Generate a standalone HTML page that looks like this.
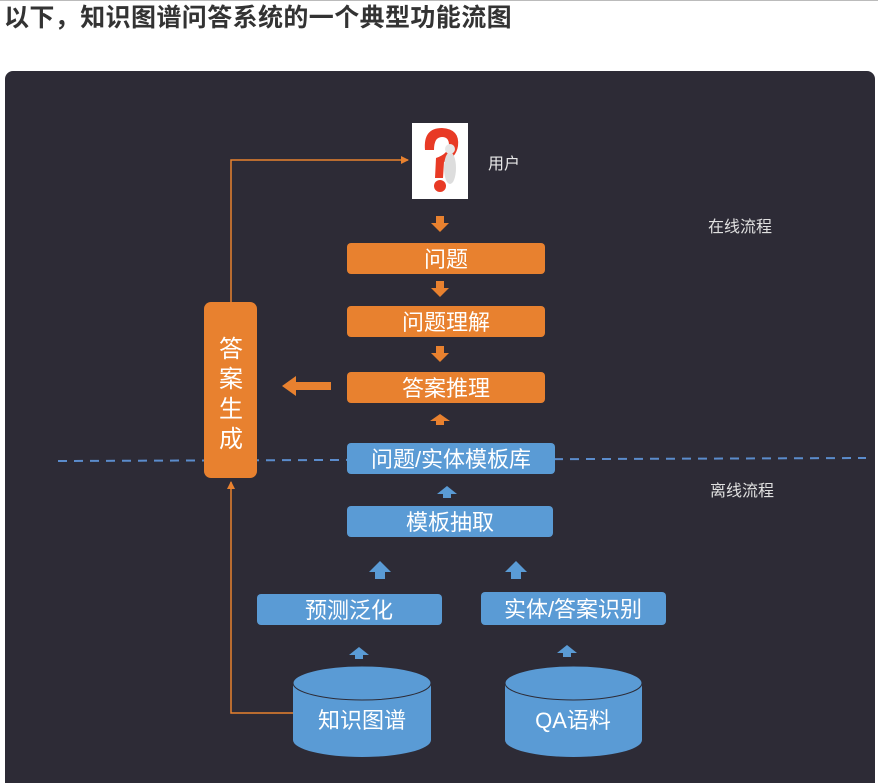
<!DOCTYPE html>
<html><head><meta charset="utf-8"><style>
html,body{margin:0;padding:0;background:#fff;width:878px;height:783px;overflow:hidden}
body{position:relative;font-family:"Liberation Sans","Noto Sans CJK SC",sans-serif}
.topline{position:absolute;left:0;top:0;width:878px;height:1px;background:#bbb}
h1{position:absolute;left:4px;top:4px;margin:0;font-size:25px;font-weight:bold;color:#333;line-height:28px;letter-spacing:0.4px;font-family:"Liberation Sans","Noto Sans CJK SC",sans-serif}
.card{position:absolute;left:5px;top:71px;width:870px;height:730px;background:#2d2b36;border-radius:8px}
svg{position:absolute;left:0;top:0}
</style></head><body>
<div class="topline"></div>
<h1>以下，知识图谱问答系统的一个典型功能流图</h1>
<div class="card"></div>
<svg width="878" height="783" viewBox="0 0 878 783" font-family="Liberation Sans, Noto Sans CJK SC, sans-serif">
<defs>
<marker id="oa" markerWidth="8" markerHeight="8" refX="7" refY="4" orient="auto" markerUnits="userSpaceOnUse"><path d="M0,0 L8,4 L0,8z" fill="#e8812f"/></marker>
</defs>
<line x1="58" y1="461" x2="866" y2="458" stroke="#5b8ccc" stroke-width="2" stroke-dasharray="9,7"/>
<polyline points="231,302 231,160 408,160" fill="none" stroke="#e8812f" stroke-width="1.5" marker-end="url(#oa)"/>
<polyline points="293,713 231,713 231,482" fill="none" stroke="#e8812f" stroke-width="1.5" marker-end="url(#oa)"/>
<rect x="412" y="123" width="56" height="76" fill="#fff"/>
<path d="M425,150 Q423,128 442,128 Q460,129 458,146 Q456,158 444,162 L443,178 L435,178 L436,158 Q448,154 449,145 Q449,137 442,137 Q434,137 434,150z" fill="#e83a25"/>
<circle cx="440" cy="186" r="6" fill="#e83a25"/>
<ellipse cx="450" cy="168" rx="6" ry="16" fill="#ddd"/>
<circle cx="450" cy="149" r="5" fill="#e6e6e6"/>
<text x="488" y="169" font-size="16" fill="#e8e8e8">用户</text>
<text x="708" y="232" font-size="16" fill="#e0e0e0">在线流程</text>
<text x="710" y="496" font-size="16" fill="#e0e0e0">离线流程</text>
<g fill="#e8812f">
<rect x="347" y="243" width="198" height="31" rx="4"/>
<rect x="347" y="306" width="198" height="31" rx="4"/>
<rect x="347" y="372" width="198" height="31" rx="4"/>
<rect x="204" y="302" width="53" height="176" rx="7"/>
<path d="M436,216 h8 v7 h5 l-9,9 l-9,-9 h5z"/>
<path d="M436,281 h8 v7 h5 l-9,9 l-9,-9 h5z"/>
<path d="M436,346 h8 v7 h5 l-9,9 l-9,-9 h5z"/>
<path d="M430,421 l10,-7 l10,7 h-6 v4 h-8 v-4z"/>
<path d="M282,386 l14,-10 v6 h35 v8 h-35 v6z"/>
</g>
<g fill="#fff" font-size="22" text-anchor="middle">
<text x="446" y="267">问题</text>
<text x="446" y="330">问题理解</text>
<text x="446" y="396">答案推理</text>
<text x="231" y="357" font-size="24">答</text>
<text x="231" y="387" font-size="24">案</text>
<text x="231" y="417" font-size="24">生</text>
<text x="231" y="447" font-size="24">成</text>
</g>
<g fill="#5a9bd5">
<rect x="347" y="443" width="208" height="31" rx="4"/>
<rect x="347" y="506" width="206" height="31" rx="4"/>
<rect x="257" y="594" width="185" height="31" rx="4"/>
<rect x="481" y="592" width="185" height="33" rx="4"/>
<path d="M437,494 l10,-8 l10,8 h-6 v4 h-8 v-4z"/>
<path d="M369,572 l11,-11 l11,11 h-6 v7 h-10 v-7z"/>
<path d="M505,572 l11,-11 l11,11 h-6 v7 h-10 v-7z"/>
<path d="M349,655 l10,-8 l10,8 h-6 v4 h-8 v-4z"/>
<path d="M557,653 l10,-8 l10,8 h-6 v4 h-8 v-4z"/>
<path d="M293,683 v57 a69,17 0 0 0 138,0 v-57z"/>
<ellipse cx="362" cy="683" rx="69" ry="17" stroke="#2d2b36" stroke-width="1" />
<path d="M505,683 v57 a68.5,17 0 0 0 137,0 v-57z"/>
<ellipse cx="573.5" cy="683" rx="68.5" ry="17" stroke="#2d2b36" stroke-width="1"/>
</g>
<g fill="#fff" font-size="22" text-anchor="middle">
<text x="451" y="467">问题/实体模板库</text>
<text x="450" y="530">模板抽取</text>
<text x="349" y="618">预测泛化</text>
<text x="573" y="617">实体/答案识别</text>
<text x="362" y="728">知识图谱</text>
<text x="573" y="728">QA语料</text>
</g>
</svg>
</body></html>
